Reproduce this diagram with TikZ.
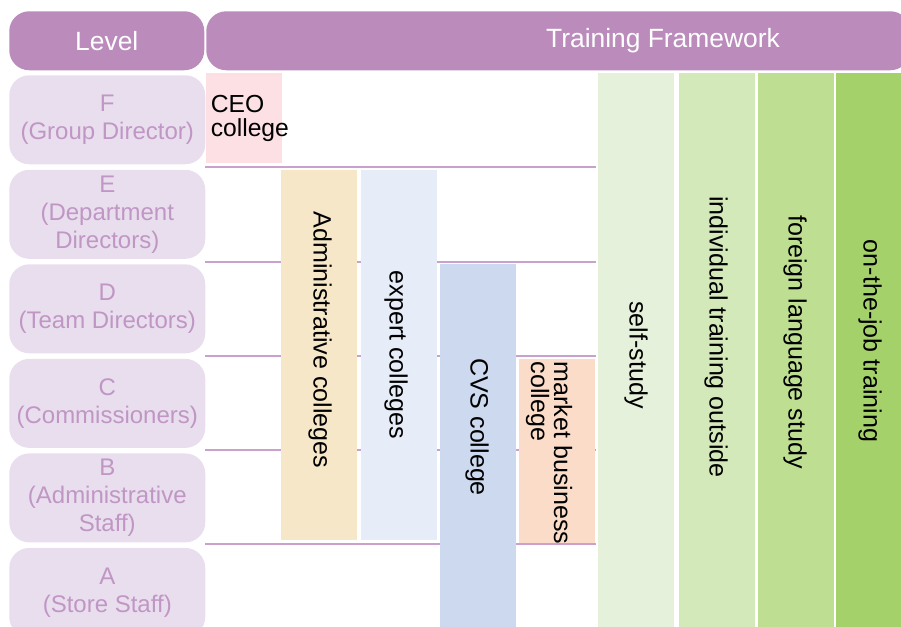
\documentclass[tikz,border=0pt]{standalone}
\usepackage{fontspec}
\setmainfont{Liberation Sans}
\usetikzlibrary{positioning}
\definecolor{headpurple}{HTML}{BB8BBC}
\definecolor{lvlfill}{HTML}{E9DEEE}
\definecolor{lvltext}{HTML}{C096C5}
\definecolor{rowpurple}{HTML}{C9A0CE}
\definecolor{ceopink}{HTML}{FCE0E4}
\definecolor{adminbeige}{HTML}{F6E7C8}
\definecolor{expertblue}{HTML}{E6EDF8}
\definecolor{cvsblue}{HTML}{CCD9EE}
\definecolor{marketpeach}{HTML}{FADCC9}
\definecolor{studygreen}{HTML}{E5F1DA}
\definecolor{outsidegreen}{HTML}{D3E9B9}
\definecolor{langgreen}{HTML}{BEDF91}
\definecolor{jobgreen}{HTML}{A5D16A}

\begin{document}
\begin{tikzpicture}[x=0.75pt, y=-0.75pt,
        node distance=3.75pt,
        headbox/.style={rectangle, fill=headpurple, rounded corners=15pt, text=white,
          minimum height=44.25pt, inner sep=0pt, font=\fontsize{19.8}{22}\selectfont},
        lvlbox/.style={rectangle, fill=lvlfill, rounded corners=15pt, text=lvltext, align=center,
          minimum width=147pt, minimum height=66.75pt, inner sep=0pt, font=\fontsize{18}{21}\selectfont},
        colbox/.style={rectangle, fill=#1, minimum width=57pt, inner sep=0pt},
        collabel/.style={rotate=-90, align=left, inner sep=0pt, font=\fontsize{18.8}{17.25}\selectfont},
        rowline/.style={draw=rowpurple, line width=1pt}
      ]
        \clip (0,0) rectangle (901,626);

        \node[headbox, minimum width=146.25pt, anchor=north west] (lvlhead) at (9,11) {Level};
        \node[headbox, minimum width=528pt, anchor=north west] (trainhead) at (206,11) {};
        \node[text=white, font=\fontsize{19.8}{22}\selectfont] (traintitle) at (663,41) {Training Framework};

        \node[lvlbox, anchor=north west] (lvlF) at (9,75) {F\\(Group Director)};
        \node[lvlbox, below=of lvlF] (lvlE) {E\\(Department\\Directors)};
        \node[lvlbox, below=of lvlE] (lvlD) {D\\(Team Directors)};
        \node[lvlbox, below=of lvlD] (lvlC) {C\\(Commissioners)};
        \node[lvlbox, below=of lvlC] (lvlB) {B\\(Administrative\\Staff)};
        \node[lvlbox, below=of lvlB] (lvlA) {A\\(Store Staff)};

        \foreach \yy in {167,262,356,450,544}
          \draw[rowline] (205,\yy) -- (596,\yy);

        \node[colbox=ceopink, minimum height=67.5pt, anchor=north west, text width=50.25pt, inner xsep=3pt,
          align=left, font=\fontsize{18.5}{18}\selectfont] (ceo) at (206,73) {CEO\\college};

        \node[colbox=adminbeige, minimum height=277.5pt, anchor=north west] (admin) at (281,170) {};
        \node[colbox=expertblue, minimum height=277.5pt, right=2.25pt of admin] (expert) {};
        \node[colbox=cvsblue, minimum height=279.75pt, anchor=north west] (cvs) at (440,264) {};
        \node[colbox=marketpeach, minimum height=138pt, anchor=north west] (market) at (519,359) {};

        \node[colbox=studygreen, minimum height=423pt, anchor=north west] (study) at (598,73) {};
        \node[colbox=outsidegreen, minimum height=423pt, right=3pt of study] (outside) {};
        \node[colbox=langgreen, minimum height=423pt, right=2.25pt of outside] (lang) {};
        \node[colbox=jobgreen, minimum height=423pt, right=0.75pt of lang] (job) {};

        \node[collabel] (admintext) at (320,340) {Administrative colleges};
        \node[collabel] (experttext) at (396,355) {expert colleges};
        \node[collabel] (cvstext) at (477,427) {CVS college};
        \node[collabel] (markettext) at (549,453) {market business\\college};
        \node[collabel] (studytext) at (636,355) {self-study};
        \node[collabel] (outsidetext) at (716,337) {individual training outside};
        \node[collabel] (langtext) at (795,342) {foreign language study};
        \node[collabel] (jobtext) at (870,341) {on-the-job training};
      \end{tikzpicture}
\end{document}
